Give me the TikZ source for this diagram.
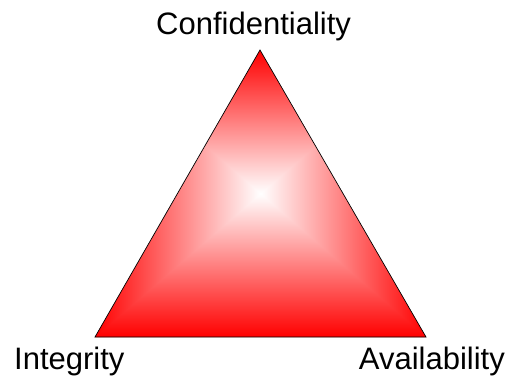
\documentclass[tikz,border=0pt]{standalone}
\usepackage{fontspec}
\setmainfont{Liberation Sans}
\begin{document}
\begin{tikzpicture}[x=1pt,y=-1pt,
  lbl/.style={font=\fontsize{31}{36}\selectfont, inner sep=0pt, text=black},
  edge/.style={draw=black, line width=0.7pt, line join=miter}]
\useasboundingbox (0,0) rectangle (511,379);
\coordinate (T) at (260,50);
\coordinate (L) at (95,337);
\coordinate (R) at (426,337);
\coordinate (C) at (260.5,193.5);
\begin{scope}
  \clip (T) -- (L) -- (R) -- cycle;
  \shade[left color=red, right color=white] (95,50) rectangle (260.5,337);
  \shade[left color=white, right color=red] (260.5,50) rectangle (426,337);
  \shade[top color=red, bottom color=white] (95,50) -- (426,50) -- (C) -- cycle;
  \shade[top color=white, bottom color=red] (95,337) -- (426,337) -- (C) -- cycle;
\end{scope}
\path[edge] (T) -- (L) -- (R) -- cycle;
\node[lbl, anchor=base west] (conf) at (156,35) {Confidentiality};
\node[lbl, anchor=base west] (integ) at (14,369) {Integrity};
\node[lbl, anchor=base east] (avail) at (505,369) {Availability};
\end{tikzpicture}
\end{document}
